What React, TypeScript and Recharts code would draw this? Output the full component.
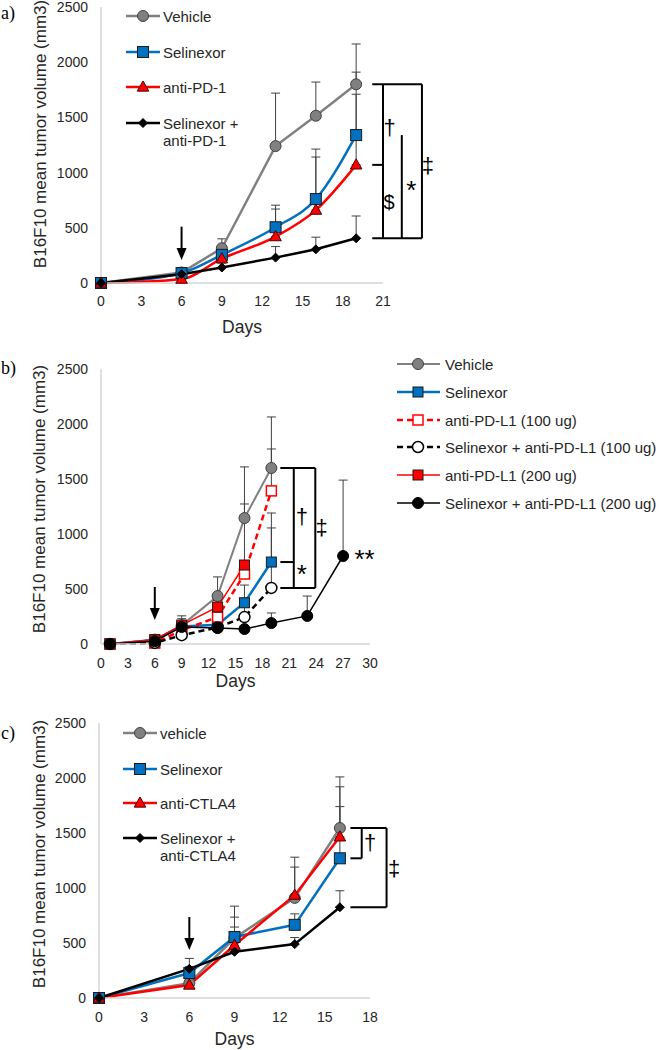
import React from 'react';
import { LineChart, Line, XAxis, YAxis, ErrorBar, ReferenceLine, ReferenceDot, Legend } from 'recharts';

const FONT = '"Liberation Sans", Arial, Helvetica, sans-serif';
const SERIF = '"Liberation Serif", "Times New Roman", serif';
const TEXT = '#262626';
const AXIS = '#d6d6d6';

// ---------------- Panel a ----------------
const daysA = [0, 6, 9, 13, 16, 19];
const vehicleA = [0, 95, 315, 1240, 1515, 1800];
const vehicleErrA = [0, 25, 85, 480, 305, 365];
const selinexorA = [0, 90, 255, 505, 760, 1340];
const selinexorErrA = [0, 25, 50, 200, 453, 570];
const antiPD1A = [0, 35, 220, 420, 660, 1070];
const antiPD1ErrA = [0, 20, 45, 250, 481, 640];
const comboA = [0, 80, 140, 230, 305, 405];
const comboErrA = [0, 30, 40, 100, 110, 202];
const xTicksA = [0, 3, 6, 9, 12, 15, 18, 21];

// ---------------- Panel b ----------------
const daysB = [1, 6, 9, 13, 16, 19, 23, 27];
const vehicleB = [0, 40, 170, 436, 1145, 1600, null, null];
const vehicleErrB = [0, 15, 60, 174, 465, 464, null, null];
const selinexorB = [0, 35, 160, 175, 375, 745, null, null];
const selinexorErrB = [0, 10, 45, 50, 161, 310, null, null];
const pdl1LowB = [0, 8, 125, 245, 636, 1392, null, null];
const pdl1LowErrB = [0, 5, 40, 60, 100, 381, null, null];
const comboLowB = [0, 10, 80, 150, 245, 510, null, null];
const comboLowErrB = [0, 5, 20, 30, 128, 681, null, null];
const pdl1HighB = [0, 40, 172, 336, 718, null, null, null];
const pdl1HighErrB = [0, 10, 84, 60, 555, null, null, null];
const comboHighB = [0, 25, 155, 145, 136, 190, 255, 800];
const comboHighErrB = [0, 10, 30, 20, 20, 92, 181, 690];
const xTicksB = [0, 3, 6, 9, 12, 15, 18, 21, 24, 27, 30];

// ---------------- Panel c ----------------
const daysC = [0, 6, 9, 13, 16];
const vehicleC = [0, 135, 545, 910, 1545];
const vehicleErrC = [0, 30, 290, 370, 465];
const selinexorC = [0, 227, 555, 665, 1270];
const selinexorErrC = [0, 60, 180, 100, 470];
const antiCTLA4C = [0, 118, 480, 935, 1465];
const antiCTLA4ErrC = [0, 30, 165, 255, 455];
const comboC = [0, 265, 420, 490, 825];
const comboErrC = [0, 95, 50, 60, 150];
const xTicksC = [0, 3, 6, 9, 12, 15, 18];

const yTicks = [0, 500, 1000, 1500, 2000, 2500];

type MarkerDef = { kind: 'circle' | 'square' | 'triangle' | 'diamond'; size: number; fill: string; stroke: string; sw: number };
type SeriesDef = {
  key: string; label: string[]; values: (number | null)[]; errs: (number | null)[];
  color: string; width: number; dash?: string; curve?: 'linear' | 'monotone'; marker: MarkerDef;
};
type Ann =
  | { t: 'seg'; x1: number; y1: number; x2: number; y2: number }
  | { t: 'text'; x: number; y: number; s: string; size?: number }
  | { t: 'arrow'; x: number; y1: number; y2: number };

const mGray: MarkerDef = { kind: 'circle', size: 11, fill: '#808080', stroke: '#404040', sw: 1 };
const mBlue: MarkerDef = { kind: 'square', size: 11, fill: '#0070C0', stroke: '#1a1a1a', sw: 1 };
const mRedTri: MarkerDef = { kind: 'triangle', size: 11, fill: '#FF0000', stroke: '#4d0000', sw: 1 };
const mDiamond: MarkerDef = { kind: 'diamond', size: 9, fill: '#000', stroke: '#000', sw: 1 };

function MarkerShape({ m, cx, cy }: { m: MarkerDef; cx: number; cy: number }) {
  const h = m.size / 2;
  const common = { fill: m.fill, stroke: m.stroke, strokeWidth: m.sw };
  if (m.kind === 'circle') return <circle cx={cx} cy={cy} r={h} {...common} />;
  if (m.kind === 'square') return <rect x={cx - h} y={cy - h} width={m.size} height={m.size} {...common} />;
  if (m.kind === 'triangle')
    return <polygon points={`${cx},${cy - h * 1.1} ${cx + h * 1.05},${cy + h * 0.75} ${cx - h * 1.05},${cy + h * 0.75}`} {...common} />;
  return <polygon points={`${cx},${cy - h} ${cx + h},${cy} ${cx},${cy + h} ${cx - h},${cy}`} {...common} />;
}

const makeDot = (m: MarkerDef) => (p: any) => {
  const { cx, cy, index, value } = p;
  if (value == null || cx == null || cy == null || isNaN(cx) || isNaN(cy)) return <g key={`d${index}`} />;
  return <MarkerShape key={`d${index}`} m={m} cx={cx} cy={cy} />;
};

const ArrowShape = (p: any) => {
  const { x1, y1, x2, y2 } = p;
  const head = 12;
  const hw = 5;
  return (
    <g>
      <line x1={x1} y1={y1} x2={x2} y2={y2 - head + 1} stroke="#000" strokeWidth={2} />
      <polygon points={`${x2},${y2} ${x2 - hw},${y2 - head} ${x2 + hw},${y2 - head}`} fill="#000" />
    </g>
  );
};

function YTitle(props: any) {
  const { px, py } = props;
  return (
    <text x={px} y={py} transform={`rotate(-90 ${px} ${py})`} textAnchor="middle" dominantBaseline="central"
      fontFamily={FONT} fontSize={17} fill={TEXT}>
      B16F10 mean tumor volume (mm3)
    </text>
  );
}

type LegendCfg = { x1: number; x2: number; mx: number; tx: number; rows: number[]; gap: number; size: number };
type PanelCfg = {
  top: number; height: number; margin: { top: number; right: number; bottom: number; left: number };
  yw: number; xDomain: [number, number]; xTicks: number[]; tickMarginX: number; daysOffset: number;
  days: number[]; series: SeriesDef[]; legend: LegendCfg; letter: string; letterY: number;
  yTitle: [number, number]; anns: Ann[];
};

function Panel({ cfg }: { cfg: PanelCfg }) {
  const data = cfg.days.map((d, i) => {
    const row: any = { day: d };
    cfg.series.forEach((s) => {
      const v = s.values[i];
      const e = s.errs[i];
      row[s.key] = v;
      row[s.key + 'Err'] = v == null || e == null || e === 0 ? null : [0, e];
    });
    return row;
  });
  const lg = cfg.legend;
  const legendContent = () => (
    <svg width={660} height={cfg.height} style={{ position: 'absolute', left: 0, top: 0, overflow: 'visible' }}>
      <text x={1} y={cfg.letterY} dominantBaseline="central" fontFamily={SERIF} fontSize={18} fill="#000">{cfg.letter}</text>
      {cfg.series.map((s, i) => {
        const y = lg.rows[i];
        return (
          <g key={s.key}>
            <line x1={lg.x1} x2={lg.x2} y1={y} y2={y} stroke={s.color} strokeWidth={s.width} strokeDasharray={s.dash} />
            <MarkerShape m={s.marker} cx={lg.mx} cy={y} />
            {s.label.map((t, j) => (
              <text key={j} x={lg.tx} y={y + j * lg.gap} dominantBaseline="central" fontFamily={FONT} fontSize={lg.size} fill={TEXT}>
                {t}
              </text>
            ))}
          </g>
        );
      })}
    </svg>
  );
  return (
    <div style={{ position: 'absolute', left: 0, top: cfg.top }}>
      <LineChart width={660} height={cfg.height} data={data} margin={cfg.margin}>
        <XAxis type="number" dataKey="day" domain={cfg.xDomain} ticks={cfg.xTicks} interval={0}
          tickLine={false} axisLine={{ stroke: AXIS, strokeWidth: 1.5 }} height={50} tickMargin={cfg.tickMarginX}
          tick={{ fontSize: 14, fill: TEXT, fontFamily: FONT }}
          label={{ value: 'Days', position: 'insideBottom', offset: cfg.daysOffset, fontSize: 17.5, fill: TEXT, fontFamily: FONT }} />
        <YAxis type="number" domain={[0, 2500]} ticks={yTicks} interval={0} width={cfg.yw}
          tickLine={false} axisLine={{ stroke: AXIS, strokeWidth: 1.5 }} tickMargin={7}
          tick={{ fontSize: 14, fill: TEXT, fontFamily: FONT }}
          label={<YTitle px={cfg.yTitle[0]} py={cfg.yTitle[1]} />} />
        <Legend layout="vertical" align="center" verticalAlign="middle" content={legendContent}
          wrapperStyle={{ left: 0, top: 0, width: 660, height: cfg.height, pointerEvents: 'none' }} />
        {cfg.series.map((s) => (
          <Line key={s.key} dataKey={s.key} type={s.curve || 'linear'} stroke={s.color} strokeWidth={s.width}
            strokeDasharray={s.dash} dot={makeDot(s.marker)} activeDot={false} isAnimationActive={false} connectNulls={false}>
            <ErrorBar dataKey={s.key + 'Err'} direction="y" width={4.5} stroke="#404040" strokeWidth={1} />
          </Line>
        ))}
        {cfg.anns.map((a, i) => {
          if (a.t === 'seg')
            return <ReferenceLine key={`a${i}`} segment={[{ x: a.x1, y: a.y1 }, { x: a.x2, y: a.y2 }]} stroke="#000" strokeWidth={2} ifOverflow="visible" />;
          if (a.t === 'arrow')
            return <ReferenceLine key={`a${i}`} segment={[{ x: a.x, y: a.y1 }, { x: a.x, y: a.y2 }]} ifOverflow="visible" shape={ArrowShape} />;
          return (
            <ReferenceDot key={`a${i}`} x={a.x} y={a.y} r={0} ifOverflow="visible"
              shape={(p: any) => (
                <text x={p.cx} y={p.cy} textAnchor="middle" dominantBaseline="central" fontFamily={FONT} fontSize={a.size || 22} fill="#000">{a.s}</text>
              )} />
          );
        })}
      </LineChart>
    </div>
  );
}

const panelA: PanelCfg = {
  top: 0, height: 345, margin: { top: 7, right: 277, bottom: 12, left: 1 }, yw: 100,
  xDomain: [0, 21], xTicks: xTicksA, tickMarginX: 7, daysOffset: 0, days: daysA,
  series: [
    { key: 'vehicle', label: ['Vehicle'], values: vehicleA, errs: vehicleErrA, color: '#808080', width: 2.5, marker: mGray },
    { key: 'selinexor', label: ['Selinexor'], values: selinexorA, errs: selinexorErrA, color: '#0070C0', width: 2.5, curve: 'monotone', marker: mBlue },
    { key: 'antipd1', label: ['anti-PD-1'], values: antiPD1A, errs: antiPD1ErrA, color: '#FF0000', width: 2.5, curve: 'monotone', marker: mRedTri },
    { key: 'combo', label: ['Selinexor +', 'anti-PD-1'], values: comboA, errs: comboErrA, color: '#000000', width: 2.5, marker: mDiamond },
  ],
  legend: { x1: 126, x2: 160, mx: 143, tx: 163, rows: [16, 52, 87, 123], gap: 17, size: 15 },
  letter: 'a)', letterY: 13, yTitle: [40, 134],
  anns: [
    { t: 'seg', x1: 20.2, y1: vehicleA[5], x2: 23.9, y2: vehicleA[5] },
    { t: 'seg', x1: 21, y1: vehicleA[5], x2: 21, y2: comboA[5] },
    { t: 'seg', x1: 20.2, y1: antiPD1A[5], x2: 21, y2: antiPD1A[5] },
    { t: 'seg', x1: 22.4, y1: selinexorA[5], x2: 22.4, y2: comboA[5] },
    { t: 'seg', x1: 23.9, y1: vehicleA[5], x2: 23.9, y2: comboA[5] },
    { t: 'seg', x1: 20.2, y1: comboA[5], x2: 23.9, y2: comboA[5] },
    { t: 'text', x: 21.5, y: 1413, s: '†' },
    { t: 'text', x: 21.45, y: 734, s: '$', size: 20 },
    { t: 'text', x: 23.1, y: 840, s: '*', size: 26 },
    { t: 'text', x: 24.35, y: 1060, s: '‡' },
    { t: 'arrow', x: 6, y1: 510, y2: 208 },
  ],
};

const panelB: PanelCfg = {
  top: 340, height: 360, margin: { top: 29, right: 290, bottom: 6, left: 1 }, yw: 100,
  xDomain: [0, 30], xTicks: xTicksB, tickMarginX: 8, daysOffset: 7, days: daysB,
  series: [
    { key: 'vehicle', label: ['Vehicle'], values: vehicleB, errs: vehicleErrB, color: '#808080', width: 2, marker: { ...mGray, size: 11 } },
    { key: 'selinexor', label: ['Selinexor'], values: selinexorB, errs: selinexorErrB, color: '#0070C0', width: 2.5, marker: { ...mBlue, size: 10 } },
    { key: 'pdl1low', label: ['anti-PD-L1 (100 ug)'], values: pdl1LowB, errs: pdl1LowErrB, color: '#FF0000', width: 2.5, dash: '6 4',
      marker: { kind: 'square', size: 10, fill: '#ffffff', stroke: '#FF0000', sw: 1.5 } },
    { key: 'combolow', label: ['Selinexor + anti-PD-L1 (100 ug)'], values: comboLowB, errs: comboLowErrB, color: '#000000', width: 2.5, dash: '6 4',
      marker: { kind: 'circle', size: 11, fill: '#ffffff', stroke: '#000000', sw: 1.5 } },
    { key: 'pdl1high', label: ['anti-PD-L1 (200 ug)'], values: pdl1HighB, errs: pdl1HighErrB, color: '#FF0000', width: 1.5,
      marker: { kind: 'square', size: 10, fill: '#FF0000', stroke: '#1a1a1a', sw: 1 } },
    { key: 'combohigh', label: ['Selinexor + anti-PD-L1 (200 ug)'], values: comboHighB, errs: comboHighErrB, color: '#000000', width: 1.5,
      marker: { kind: 'circle', size: 11, fill: '#000000', stroke: '#000000', sw: 1 } },
  ],
  legend: { x1: 397, x2: 440, mx: 418, tx: 445, rows: [24, 52, 80, 107, 135, 163], gap: 17, size: 15 },
  letter: 'b)', letterY: 28, yTitle: [39, 159],
  anns: [
    { t: 'seg', x1: 20, y1: vehicleB[5] as number, x2: 23.9, y2: vehicleB[5] as number },
    { t: 'seg', x1: 21.5, y1: vehicleB[5] as number, x2: 21.5, y2: comboLowB[5] as number },
    { t: 'seg', x1: 20, y1: selinexorB[5] as number, x2: 21.5, y2: selinexorB[5] as number },
    { t: 'seg', x1: 23.9, y1: vehicleB[5] as number, x2: 23.9, y2: comboLowB[5] as number },
    { t: 'seg', x1: 20, y1: comboLowB[5] as number, x2: 23.9, y2: comboLowB[5] as number },
    { t: 'text', x: 22.4, y: 1155, s: '†' },
    { t: 'text', x: 22.4, y: 640, s: '*', size: 26 },
    { t: 'text', x: 24.6, y: 1055, s: '‡' },
    { t: 'text', x: 29.4, y: 770, s: '**', size: 26 },
    { t: 'arrow', x: 6, y1: 518, y2: 218 },
  ],
};

const panelC: PanelCfg = {
  top: 690, height: 360, margin: { top: 33, right: 290, bottom: 2, left: 0 }, yw: 99,
  xDomain: [0, 18], xTicks: xTicksC, tickMarginX: 8, daysOffset: 3, days: daysC,
  series: [
    { key: 'vehicle', label: ['vehicle'], values: vehicleC, errs: vehicleErrC, color: '#808080', width: 2.5, marker: mGray },
    { key: 'selinexor', label: ['Selinexor'], values: selinexorC, errs: selinexorErrC, color: '#0070C0', width: 2.5, marker: mBlue },
    { key: 'ctla4', label: ['anti-CTLA4'], values: antiCTLA4C, errs: antiCTLA4ErrC, color: '#FF0000', width: 2.5, marker: mRedTri },
    { key: 'combo', label: ['Selinexor +', 'anti-CTLA4'], values: comboC, errs: comboErrC, color: '#000000', width: 2.5, marker: mDiamond },
  ],
  legend: { x1: 123, x2: 157, mx: 140, tx: 160, rows: [43, 79, 113, 148], gap: 17, size: 15 },
  letter: 'c)', letterY: 43, yTitle: [39, 164],
  anns: [
    { t: 'seg', x1: 16.7, y1: vehicleC[4], x2: 19.1, y2: vehicleC[4] },
    { t: 'seg', x1: 17.45, y1: vehicleC[4], x2: 17.45, y2: selinexorC[4] },
    { t: 'seg', x1: 16.7, y1: selinexorC[4], x2: 17.45, y2: selinexorC[4] },
    { t: 'seg', x1: 19.1, y1: vehicleC[4], x2: 19.1, y2: comboC[4] },
    { t: 'seg', x1: 16.7, y1: comboC[4], x2: 19.1, y2: comboC[4] },
    { t: 'text', x: 18.0, y: 1410, s: '†' },
    { t: 'text', x: 19.6, y: 1173, s: '‡' },
    { t: 'arrow', x: 6, y1: 736, y2: 436 },
  ],
};

export default function App() {
  return (
    <div style={{ position: 'absolute', left: 0, top: 0, width: 660, height: 1050, background: '#fff', overflow: 'hidden' }}>
      <Panel cfg={panelA} />
      <Panel cfg={panelB} />
      <Panel cfg={panelC} />
    </div>
  );
}
